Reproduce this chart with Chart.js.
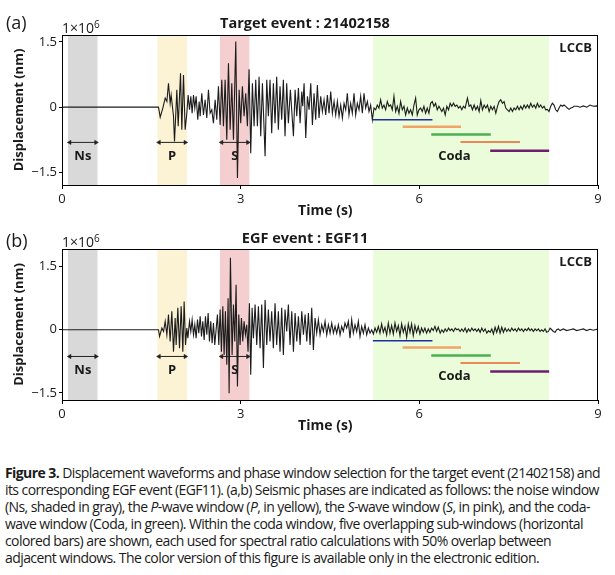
<!DOCTYPE html>
<html>
<head>
<meta charset="utf-8">
<script src="https://cdn.jsdelivr.net/npm/chart.js@4.4.1/dist/chart.umd.min.js"></script>
<style>
  html, body { margin: 0; padding: 0; background: #fff; }
  #fig { position: relative; width: 615px; height: 575px; overflow: hidden; font-family: "Open Sans", sans-serif; color: #1a1a1a; }
  canvas { position: absolute; left: 0; }
  #chartA { top: 0; }
  #chartB { top: 215px; }
  .tag { position: absolute; left: 6px; font-size: 18px; line-height: 18px; }
  .mult { position: absolute; left: 62px; font-size: 14px; line-height: 16px; }
  .mult sup { font-size: 10px; vertical-align: 5px; line-height: 0; }
  .ttl { position: absolute; left: 155px; width: 300px; text-align: center; font-weight: bold; font-size: 14.5px; line-height: 16px; }
  #caption { position: absolute; left: 5px; top: 464px; font-family: "Liberation Sans Narrow", "Open Sans", sans-serif; font-size: 14px; line-height: 17px; white-space: nowrap; color: #1a1a1a; }
  #caption span { display: block; }
</style>
</head>
<body>
<div id="fig">
  <canvas id="chartA" width="615" height="220"></canvas>
  <canvas id="chartB" width="615" height="220"></canvas>
  <div class="tag" style="top:13px">(a)</div>
  <div class="mult" style="top:20px">1×10<sup>6</sup></div>
  <div class="ttl" style="top:15px">Target event : 21402158</div>
  <div class="tag" style="top:231px">(b)</div>
  <div class="mult" style="top:234px">1×10<sup>6</sup></div>
  <div class="ttl" style="top:230px">EGF event : EGF11</div>
  <div id="caption">
    <span><b>Figure 3.</b> Displacement waveforms and phase window selection for the target event (21402158) and</span>
    <span>its corresponding EGF event (EGF11). (a,b) Seismic phases are indicated as follows: the noise window</span>
    <span>(Ns, shaded in gray), the <i>P</i>-wave window (<i>P</i>, in yellow), the <i>S</i>-wave window (<i>S</i>, in pink), and the coda-</span>
    <span>wave window (Coda, in green). Within the coda window, five overlapping sub-windows (horizontal</span>
    <span>colored bars) are shown, each used for spectral ratio calculations with 50% overlap between</span>
    <span>adjacent windows. The color version of this figure is available only in the electronic edition.</span>
  </div>
</div>
<script>
// ticks
const xTicks = [0, 3, 6, 9];
const yTicks = [-1.5, 0, 1.5];

// phase windows (s)
const phaseNames = ['Ns', 'P', 'S', 'Coda'];
const phaseStart = [0.1, 1.6, 2.65, 5.22];
const phaseEnd = [0.6, 2.1, 3.15, 8.18];

// coda sub-windows (s) and their levels (x1e6 nm)
const subStart = [5.22, 5.72, 6.2, 6.69, 7.19];
const subEnd = [6.22, 6.7, 7.2, 7.69, 8.18];
const subLevelA = [-0.29, -0.45, -0.63, -0.80, -1.00];
const subLevelB = [-0.26, -0.42, -0.61, -0.79, -0.99];

// displacement traces [time s, displacement x1e6 nm]
const traceA = [
  [0,0],[1.62,0],[1.649,-0.23],[1.693,-0.02],[1.733,0.21],[1.761,0.13],[1.788,0.55],[1.816,0.09],
  [1.833,0.28],[1.872,-0.21],[1.889,-0.79],[1.911,-0.14],[1.928,0.40],[1.951,-0.44],[1.990,0.78],
  [2.012,-0.52],[2.040,0.74],[2.068,-0.52],[2.096,-0.14],[2.118,0.28],[2.141,-0.06],[2.163,0.25],
  [2.185,-0.14],[2.208,0.28],[2.230,-0.02],[2.252,0.25],[2.280,-0.29],[2.303,0.13],[2.320,-0.21],
  [2.347,0.32],[2.375,-0.18],[2.403,0.17],[2.431,-0.25],[2.459,0.40],[2.487,-0.14],[2.515,-0.06],
  [2.543,-0.37],[2.571,0.17],[2.599,-0.29],[2.627,0.48],[2.655,-0.41],[2.683,0.63],[2.711,-0.44],
  [2.739,0.63],[2.767,-0.75],[2.795,1.01],[2.823,-0.52],[2.851,0.55],[2.879,-0.75],[2.918,1.51],
  [2.946,-1.63],[2.974,0.40],[3.001,-0.37],[3.029,0.48],[3.057,-0.21],[3.085,0.32],[3.113,-0.44],
  [3.141,0.87],[3.169,-1.06],[3.197,0.55],[3.225,-0.44],[3.253,0.63],[3.281,-0.44],[3.309,0.70],
  [3.337,-0.67],[3.365,0.55],[3.410,-1.13],[3.438,0.63],[3.465,-0.21],[3.493,0.63],[3.521,-0.60],
  [3.549,0.55],[3.577,-0.37],[3.605,0.70],[3.633,-0.52],[3.661,0.48],[3.689,-0.29],[3.717,0.63],
  [3.745,-0.67],[3.773,0.55],[3.801,-0.37],[3.835,0.40],[3.886,-0.67],[3.914,0.40],[3.942,-0.21],
  [3.970,0.44],[3.998,-0.37],[4.026,0.36],[4.042,0.02],[4.065,0.55],[4.093,-0.71],[4.121,0.25],
  [4.149,-0.06],[4.177,0.55],[4.205,-0.41],[4.232,0.32],[4.260,-0.29],[4.288,0.51],[4.316,-0.25],
  [4.344,0.25],[4.372,-0.10],[4.400,0.17],[4.428,-0.18],[4.456,0.28],[4.484,-0.14],[4.512,0.36],
  [4.540,-0.14],[4.568,0.13],[4.596,-0.18],[4.624,0.13],[4.652,-0.21],[4.680,0.05],[4.708,-0.25],
  [4.736,0.09],[4.764,-0.06],[4.791,0.32],[4.819,-0.18],[4.847,0.09],[4.875,-0.14],[4.903,0.32],
  [4.931,-0.18],[4.959,0.09],[4.987,-0.06],[5.015,0.25],[5.043,-0.14],[5.071,0.32],[5.099,-0.02],
  [5.127,0.13],[5.155,-0.10],[5.183,0.05],[5.211,-0.29],[5.239,-0.02],[5.267,-0.06],[5.294,0.05],
  [5.322,-0.02],[5.350,0.17],[5.378,-0.02],[5.406,0.05],[5.434,-0.06],[5.462,0.13],[5.490,0.02],
  [5.518,0.05],[5.546,-0.06],[5.574,0.25],[5.602,-0.10],[5.630,0.02],[5.658,-0.14],[5.686,0.13],
  [5.714,-0.06],[5.742,0.02],[5.770,-0.18],[5.798,-0.02],[5.826,-0.14],[5.854,-0.06],[5.882,-0.18],
  [5.910,0.05],[5.938,0.21],[5.965,-0.18],[5.993,-0.06],[6.021,-0.02],[6.049,-0.10],[6.077,0.02],
  [6.105,-0.14],[6.133,-0.02],[6.161,-0.14],[6.189,0.09],[6.217,0.13],[6.245,0.02],[6.273,0.09],
  [6.301,-0.06],[6.329,0.02],[6.378,-0.10],[6.406,-0.02],[6.434,-0.18],[6.462,0.02],[6.490,-0.06],
  [6.518,0.09],[6.546,0.02],[6.574,0.09],[6.602,0.02],[6.630,0.05],[6.657,-0.02],[6.685,0.02],
  [6.713,-0.06],[6.741,0.02],[6.769,-0.02],[6.808,0.21],[6.836,0.02],[6.864,0.05],[6.892,-0.06],
  [6.920,0.05],[6.948,-0.06],[6.976,0.02],[7.004,-0.10],[7.032,0.15],[7.060,-0.06],[7.088,0.05],
  [7.116,-0.02],[7.144,0.05],[7.172,-0.10],[7.200,0.02],[7.228,-0.06],[7.256,0.02],[7.284,-0.14],
  [7.312,0.02],[7.339,0.13],[7.367,0.17],[7.395,0.09],[7.423,0.13],[7.451,-0.02],[7.479,-0.06],
  [7.507,-0.10],[7.535,-0.02],[7.563,-0.10],[7.591,-0.02],[7.619,-0.06],[7.647,0.02],[7.675,-0.06],
  [7.703,0.02],[7.731,-0.05],[7.759,0.05],[7.787,-0.02],[7.815,0.05],[7.843,-0.02],[7.871,0.09],
  [7.899,0.00],[7.927,0.05],[7.955,-0.02],[7.983,0.09],[8.010,0.00],[8.038,0.05],[8.066,-0.02],
  [8.094,0.02],[8.122,-0.06],[8.150,-0.05],[8.178,-0.10],[8.206,0.02],[8.234,0.09],[8.262,0.05],
  [8.290,-0.06],[8.318,-0.10],[8.346,-0.02],[8.374,0.05],[8.402,0.02],[8.430,0.05],[8.458,0.02],
  [8.486,-0.02],[8.514,-0.05],[8.542,-0.02],[8.570,-0.01],[8.597,0.02],[8.653,0.02],[8.698,0.00],
  [8.754,0.03],[8.810,0.00],[8.866,0.05],[8.922,0.02],[8.978,0.03],[9.0,0.02]
];

const traceB = [
  [0,0],[1.62,0],[1.638,-0.16],[1.677,0.04],[1.705,-0.04],[1.733,0.20],[1.761,-0.12],[1.788,0.36],
  [1.816,-0.28],[1.844,0.44],[1.872,-0.52],[1.900,0.28],[1.917,-0.36],[1.945,0.52],[1.973,-0.44],
  [2.001,0.56],[2.029,-0.52],[2.051,0.67],[2.074,-0.36],[2.096,0.04],[2.113,-0.20],[2.141,0.20],
  [2.163,-0.04],[2.185,0.24],[2.208,-0.12],[2.230,0.12],[2.252,-0.20],[2.275,0.24],[2.297,-0.08],
  [2.320,0.32],[2.342,-0.16],[2.364,0.20],[2.387,-0.24],[2.409,0.32],[2.431,-0.12],[2.454,0.40],
  [2.476,-0.28],[2.498,0.20],[2.521,-0.32],[2.543,0.16],[2.565,-0.36],[2.610,0.36],[2.633,-0.36],
  [2.655,0.48],[2.677,-0.52],[2.700,0.56],[2.722,-0.60],[2.744,0.44],[2.767,-0.83],[2.789,0.75],
  [2.806,-1.51],[2.828,1.71],[2.856,-0.60],[2.879,0.60],[2.901,-0.28],[2.923,1.07],[2.946,-1.35],
  [2.968,0.36],[2.990,-0.36],[3.013,0.28],[3.035,-0.28],[3.057,0.20],[3.080,-0.12],[3.102,0.12],
  [3.124,-0.52],[3.147,0.63],[3.169,-1.07],[3.192,0.52],[3.214,-0.20],[3.242,0.60],[3.270,-0.36],
  [3.298,0.56],[3.326,-0.44],[3.354,0.60],[3.382,-0.91],[3.410,0.71],[3.438,-0.36],[3.465,0.48],
  [3.493,-0.28],[3.521,0.44],[3.549,-0.44],[3.577,0.63],[3.605,-0.36],[3.633,0.44],[3.661,-0.52],
  [3.689,0.52],[3.717,-0.60],[3.745,0.48],[3.773,-0.04],[3.801,0.60],[3.829,-0.36],[3.858,0.44],
  [3.886,-0.52],[3.914,0.40],[3.942,-0.28],[3.970,0.32],[3.998,-0.36],[4.026,0.44],[4.054,-0.12],
  [4.082,0.36],[4.110,-0.28],[4.137,0.40],[4.165,-0.36],[4.193,0.52],[4.221,-0.48],[4.249,0.28],
  [4.277,-0.08],[4.305,0.24],[4.333,-0.12],[4.361,0.12],[4.389,-0.04],[4.417,0.20],[4.445,-0.12],
  [4.473,0.12],[4.501,-0.08],[4.529,0.16],[4.557,-0.08],[4.585,0.08],[4.613,-0.08],[4.641,0.12],
  [4.669,-0.12],[4.696,0.08],[4.724,-0.04],[4.752,0.16],[4.780,0.04],[4.808,0.20],[4.836,-0.20],
  [4.864,0.24],[4.892,-0.08],[4.920,0.12],[4.948,-0.04],[4.976,0.20],[5.004,-0.16],[5.032,0.08],
  [5.060,-0.08],[5.088,0.12],[5.116,-0.12],[5.144,0.04],[5.172,-0.08],[5.200,0.00],[5.228,-0.10],
  [5.256,0.04],[5.284,-0.06],[5.311,0.08],[5.339,-0.08],[5.367,0.14],[5.395,-0.06],[5.423,0.06],
  [5.451,-0.12],[5.479,0.16],[5.507,-0.08],[5.535,0.10],[5.563,-0.10],[5.591,0.16],[5.619,-0.04],
  [5.647,0.10],[5.675,-0.14],[5.703,0.14],[5.731,-0.06],[5.759,0.08],[5.787,-0.18],[5.815,0.14],
  [5.843,-0.06],[5.870,0.14],[5.898,-0.14],[5.926,0.10],[5.954,-0.06],[5.982,0.08],[6.010,-0.10],
  [6.038,0.04],[6.066,-0.06],[6.094,0.04],[6.122,-0.08],[6.150,0.02],[6.178,-0.06],[6.206,0.04],
  [6.234,-0.02],[6.262,0.08],[6.290,-0.04],[6.318,0.06],[6.350,-0.08],[6.378,0.00],[6.406,-0.06],
  [6.434,0.02],[6.462,-0.04],[6.490,0.04],[6.518,-0.02],[6.546,0.02],[6.574,-0.04],[6.602,0.04],
  [6.630,0.00],[6.657,0.02],[6.685,-0.04],[6.713,0.02],[6.741,-0.04],[6.769,0.04],[6.797,-0.06],
  [6.825,0.02],[6.853,-0.04],[6.881,0.04],[6.909,-0.02],[6.937,0.02],[6.965,-0.04],[6.993,0.02],
  [7.021,-0.06],[7.049,0.04],[7.077,-0.04],[7.105,0.02],[7.133,-0.08],[7.161,-0.02],[7.189,-0.06],
  [7.217,0.02],[7.244,-0.10],[7.272,0.06],[7.300,-0.06],[7.328,0.08],[7.356,-0.08],[7.384,0.06],
  [7.412,-0.06],[7.440,0.04],[7.468,-0.04],[7.496,0.02],[7.524,-0.04],[7.552,0.04],[7.580,-0.02],
  [7.608,0.02],[7.636,-0.04],[7.664,0.04],[7.692,-0.02],[7.720,0.02],[7.748,-0.04],[7.776,0.02],
  [7.804,-0.02],[7.832,0.04],[7.860,-0.02],[7.887,0.02],[7.915,-0.04],[7.943,0.02],[7.971,-0.02],
  [7.999,0.02],[8.027,-0.04],[8.055,0.00],[8.083,-0.04],[8.111,0.02],[8.139,-0.06],[8.167,-0.04],
  [8.195,0.04],[8.223,0.00],[8.251,-0.04],[8.279,-0.06],[8.307,0.00],[8.335,0.02],[8.363,-0.02],
  [8.419,0.02],[8.474,-0.02],[8.530,0.00],[8.586,0.02],[8.642,-0.02],[8.698,0.00],[8.754,0.02],
  [8.810,-0.02],[8.866,0.01],[8.922,-0.01],[8.978,0.01],[9.0,0.00]
];

const phaseColors = ['#d9d9d9', '#fcf3d4', '#f5cfcf', '#eafcd9'];
const subColors = ['#1f2d9c', '#f2a467', '#4caf50', '#e8622c', '#6b1f6e'];
const subWidths = [1.5, 2.5, 2.5, 1.5, 2.5];
const FONT = '"Open Sans", sans-serif';
const INK = '#1a1a1a';

const panels = [
  { id: 'chartA', trace: traceA, yMin: -1.79, yMax: 1.66, subLevel: subLevelA,
    arrowY: -0.81, labelY: -1.14, codaX: 6.59, codaY: -1.14, padTop: 35 },
  { id: 'chartB', trace: traceB, yMin: -1.67, yMax: 1.92, subLevel: subLevelB,
    arrowY: -0.635, labelY: -0.97, codaX: 6.59, codaY: -1.11, padTop: 34 }
];

// phase names and station code, drawn under the trace
const phaseText = {
  id: 'phaseText',
  beforeDatasetDraw(chart, args, opts) {
    if (chart.data.datasets[args.index].label !== 'waveform') return;
    const { ctx, chartArea } = chart;
    const x = chart.scales.x, y = chart.scales.y;
    ctx.save();
    ctx.font = 'bold 13px ' + FONT;
    ctx.fillStyle = INK;
    ctx.textAlign = 'center';
    ctx.textBaseline = 'middle';
    opts.items.forEach(it => ctx.fillText(it.text, x.getPixelForValue(it.x), y.getPixelForValue(it.y)));
    ctx.textAlign = 'right';
    ctx.fillText(opts.station, chartArea.right - 6, chartArea.top + 13);
    ctx.restore();
  }
};

const frame = {
  id: 'frame',
  afterDatasetsDraw(chart) {
    const { ctx, chartArea: a } = chart;
    ctx.save();
    ctx.strokeStyle = '#000';
    ctx.lineWidth = 1;
    ctx.strokeRect(Math.round(a.left) + 0.5, Math.round(a.top) + 0.5, Math.round(a.right - a.left) - 1, Math.round(a.bottom - a.top));
    ctx.restore();
  }
};

function fmtTick(v) {
  if (v === 0) return '0';
  return v < 0 ? '\u2212' + Math.abs(v) : String(v);
}

function makeChart(p) {
  const datasets = [];
  datasets.push({
    label: 'waveform',
    data: p.trace.map(([t, v]) => ({ x: t, y: v })),
    borderColor: '#1c1c1c', borderWidth: 1.1, pointRadius: 0, tension: 0, fill: false, order: 0
  });
  subStart.forEach((s, i) => datasets.push({
    label: 'sub' + (i + 1),
    data: [{ x: s, y: p.subLevel[i] }, { x: subEnd[i], y: p.subLevel[i] }],
    borderColor: subColors[i], borderWidth: subWidths[i], pointRadius: 0, fill: false, order: 1
  }));
  // double arrows across Ns, P and S
  phaseNames.slice(0, 3).forEach((n, i) => datasets.push({
    label: n + ' arrow',
    data: [{ x: phaseStart[i] + 0.03, y: p.arrowY }, { x: phaseEnd[i] - 0.03, y: p.arrowY }],
    borderColor: '#222', borderWidth: 1, fill: false, order: 2,
    pointStyle: 'triangle', pointRadius: 2.5, pointRotation: [-90, 90],
    pointBackgroundColor: '#222', pointBorderColor: '#222', pointBorderWidth: 0.5
  }));
  phaseNames.forEach((n, i) => datasets.push({
    label: n + ' window',
    data: [{ x: phaseStart[i], y: p.yMax }, { x: phaseEnd[i], y: p.yMax }],
    borderWidth: 0, borderColor: 'rgba(0,0,0,0)', backgroundColor: phaseColors[i],
    pointRadius: 0, fill: 'start', order: 10
  }));

  const items = phaseNames.map((n, i) => n === 'Coda'
    ? { text: n, x: p.codaX, y: p.codaY }
    : { text: n, x: (phaseStart[i] + phaseEnd[i]) / 2, y: p.labelY });

  return new Chart(document.getElementById(p.id), {
    type: 'line',
    data: { datasets },
    plugins: [phaseText, frame],
    options: {
      responsive: false,
      animation: false,
      events: [],
      layout: { padding: { left: 0, right: 17, top: p.padTop, bottom: 0 } },
      plugins: {
        legend: { display: false },
        tooltip: { enabled: false },
        phaseText: { items, station: 'LCCB' }
      },
      scales: {
        x: {
          type: 'linear', min: 0, max: 9,
          afterBuildTicks: s => { s.ticks = xTicks.map(v => ({ value: v })); },
          afterFit: s => { s.height = 35; },
          grid: { drawOnChartArea: false, tickLength: 4, color: '#000' },
          border: { display: false },
          ticks: { color: INK, font: { family: FONT, size: 13 }, padding: 2, maxRotation: 0 },
          title: { display: true, text: 'Time (s)\u2002\u2009', color: INK,
                   font: { family: FONT, size: 14, weight: 'bold' }, padding: { top: 0, bottom: 1 } }
        },
        y: {
          type: 'linear', min: p.yMin, max: p.yMax,
          afterBuildTicks: s => { s.ticks = yTicks.map(v => ({ value: v })); },
          afterFit: s => { s.width = 62; },
          grid: { drawOnChartArea: false, tickLength: 3, color: '#000' },
          border: { display: false },
          ticks: { color: INK, font: { family: FONT, size: 13 }, padding: 2, callback: fmtTick },
          title: { display: true, text: 'Displacement (nm)', color: INK,
                   font: { family: FONT, size: 13, weight: 'bold' }, padding: { top: 11, bottom: 0 } }
        }
      }
    }
  });
}

panels.forEach(makeChart);

// squeeze caption lines to the printed width
(function fitCaption() {
  const lines = document.querySelectorAll('#caption span');
  const first = lines[0];
  const range = document.createRange();
  range.selectNodeContents(first);
  const w = range.getBoundingClientRect().width;
  const n = first.textContent.length;
  const ls = (595 - w) / n;
  document.getElementById('caption').style.letterSpacing = ls.toFixed(3) + 'px';
})();
</script>
</body>
</html>
